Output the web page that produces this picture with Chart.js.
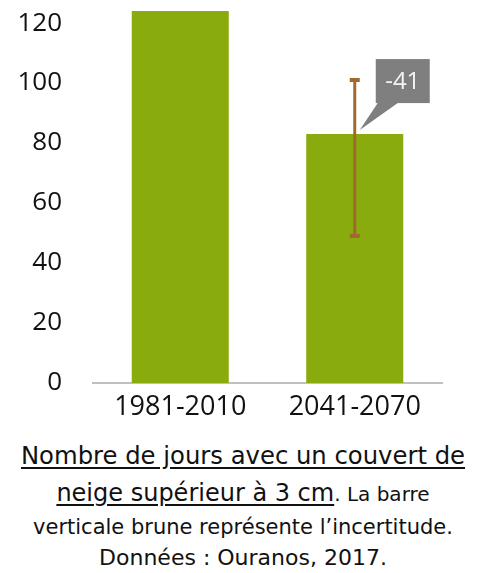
<!DOCTYPE html>
<html>
<head>
<meta charset="utf-8">
<script src="https://cdn.jsdelivr.net/npm/chart.js@4"></script>
<style>
  body { margin: 0; background: #fff; }
  .wrap { position: relative; width: 486px; height: 573px; overflow: hidden; }
  #myChart { position: absolute; left: 0; top: 0; }
  .cap { position: absolute; left: 0; width: 486px; text-align: center; font-family: "DejaVu Sans", sans-serif; color: #111; white-space: nowrap; }
  .u { text-decoration: underline; text-underline-offset: 3px; }
</style>
</head>
<body>
<div class="wrap">
  <canvas id="myChart" width="486" height="430"></canvas>
  <div class="cap" style="top:441px;font-size:24.3px;"><span class="u">Nombre de jours avec un couvert de</span></div>
  <div class="cap" style="top:479px;font-size:24px;"><span class="u">neige supérieur à 3 cm</span><span style="font-size:20px">. La barre</span></div>
  <div class="cap" style="top:515px;font-size:21px;">verticale brune représente l’incertitude.</div>
  <div class="cap" style="top:545px;font-size:22px;">Données : Ouranos, 2017.</div>
</div>
<script>
// data
const periods = ['1981-2010', '2041-2070'];
const snowDays = [124, 83];
const errLow = [null, 49];
const errHigh = [null, 101];
const yTicks = [0, 20, 40, 60, 80, 100, 120];

const barColor = '#89ab0e';
const errColor = '#a0692f';

// brown error bar + grey callout with the difference
const extras = {
    id: 'extras',
    afterDatasetsDraw(chart) {
        const ctx = chart.ctx;
        const x = chart.scales.x;
        const y = chart.scales.y;
        ctx.save();
        periods.forEach((p, i) => {
            if (errLow[i] == null) return;
            const cx = x.getPixelForValue(i);
            const yTop = y.getPixelForValue(errHigh[i]);
            const yBot = y.getPixelForValue(errLow[i]);
            ctx.strokeStyle = errColor;
            ctx.lineWidth = 3;
            ctx.beginPath();
            ctx.moveTo(cx, yTop);
            ctx.lineTo(cx, yBot);
            ctx.stroke();
            ctx.lineWidth = 4;
            ctx.beginPath();
            ctx.moveTo(cx - 5, yTop); ctx.lineTo(cx + 5, yTop);
            ctx.moveTo(cx - 5, yBot); ctx.lineTo(cx + 5, yBot);
            ctx.stroke();

            // callout
            const diff = snowDays[i] - snowDays[0];
            const bx = cx + 21, by = yTop - 21, bw = 54, bh = 44;
            const tipX = cx + 5, tipY = y.getPixelForValue(snowDays[i]) - 4;
            ctx.fillStyle = '#7f7f7f';
            ctx.fillRect(bx, by, bw, bh);
            ctx.beginPath();
            ctx.moveTo(bx + 2, by + bh);
            ctx.lineTo(bx + 22, by + bh);
            ctx.lineTo(tipX, tipY);
            ctx.closePath();
            ctx.fill();
            ctx.fillStyle = '#f4f4f4';
            ctx.font = '24px "Open Sans"';
            ctx.textAlign = 'center';
            ctx.textBaseline = 'middle';
            ctx.fillText(String(diff), bx + bw / 2, by + bh / 2 + 1);
        });
        ctx.restore();
    }
};

new Chart(document.getElementById('myChart'), {
    type: 'bar',
    data: {
        labels: periods,
        datasets: [{
            data: snowDays,
            backgroundColor: barColor,
            barPercentage: 0.556,
            categoryPercentage: 1
        }]
    },
    options: {
        responsive: false,
        animation: false,
        layout: { padding: { left: 0, right: 44, top: 0, bottom: 0 } },
        plugins: { legend: { display: false }, tooltip: { enabled: false } },
        scales: {
            y: {
                min: 0,
                max: 127.7,
                afterBuildTicks: axis => { axis.ticks = yTicks.map(v => ({ value: v })); },
                afterFit: axis => { axis.width = 93; axis.paddingTop = 0; axis.paddingBottom = 0; },
                grid: { display: false, drawTicks: false },
                border: { display: false },
                ticks: {
                    padding: 31,
                    color: '#111',
                    font: { family: 'Open Sans', size: 26 }
                }
            },
            x: {
                afterFit: axis => { axis.height = 47; axis.paddingTop = 0; axis.paddingLeft = 0; axis.paddingRight = 0; },
                grid: { display: false, drawTicks: false },
                border: { display: true, color: '#c0c0c0', width: 2 },
                ticks: {
                    padding: 8,
                    color: '#111',
                    font: { family: 'Open Sans', size: 27 }
                }
            }
        }
    },
    plugins: [extras]
});
</script>
</body>
</html>
